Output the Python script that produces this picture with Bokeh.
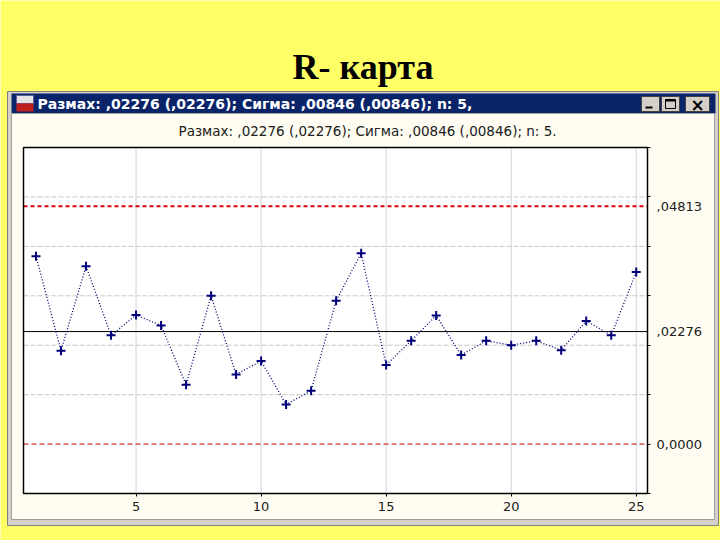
from bokeh.plotting import figure
from bokeh.models import (FixedTicker, Label, BoxAnnotation, Range1d,
                          LinearAxis, ColumnDataSource)
from bokeh.embed import file_html
from bokeh.resources import INLINE

# ---------------- data ----------------
samples = list(range(1, 26))
ranges = [0.0380, 0.0189, 0.0360, 0.0220, 0.0261, 0.0240, 0.0120, 0.0300,
          0.0141, 0.0168, 0.0080, 0.0108, 0.0290, 0.0386, 0.0160, 0.0209,
          0.0260, 0.0180, 0.0209, 0.0200, 0.0209, 0.0190, 0.0249, 0.0220,
          0.0348]
ucl = 0.04813
cl = 0.02276
lcl = 0.0
x_ticks = [5, 10, 15, 20, 25]
y_grid = [0.01, 0.02, 0.03, 0.04, 0.05]
y_minor = [-0.01, 0.0, 0.01, 0.02, 0.03, 0.04, 0.05, 0.06]
limit_labels = {0.04813: ",04813", 0.02276: ",02276", 0.0: "0,0000"}
slide_title = "R- карта"
window_title = "Размах: ,02276 (,02276); Сигма: ,00846 (,00846); n: 5,"
chart_subtitle = "Размах: ,02276 (,02276); Сигма: ,00846 (,00846); n: 5."

# visible chart domain
x_lo, x_hi = 0.5, 25.45
y_lo, y_hi = -0.01, 0.06

# ---------------- layout ----------------
W, H = 720, 540
PL, PR, PT, PB = 23, 647, 147, 493      # plot-area box on the canvas
kx = (PR - PL) / (x_hi - x_lo)
ky = (PB - PT) / (y_hi - y_lo)
xs, xe = x_lo - PL / kx, x_hi + (W - PR) / kx
ys, ye = y_lo - (H - PB) / ky, y_hi + PT / ky

YELLOW = "#FFFF66"
CREAM = "#FFFDF2"
NAVY = "#0A246A"
BTN = "#D4D0C8"
INK = "#202020"

p = figure(width=W, height=H, output_backend="svg", toolbar_location=None,
           x_range=Range1d(xs, xe), y_range=Range1d(ys, ye),
           x_axis_location=None, y_axis_location=None,
           min_border=0, border_fill_color=YELLOW,
           background_fill_color=YELLOW, outline_line_color=None)
p.xgrid.visible = False
p.ygrid.visible = False


def box(x0, y0, x1, y1, fill=None, line=None, lw=1, level="image"):
    b = BoxAnnotation(left=x0, right=x1, top=H - y0, bottom=H - y1,
                      left_units="screen", right_units="screen",
                      top_units="screen", bottom_units="screen",
                      fill_color=fill if fill else "white",
                      fill_alpha=1.0 if fill else 0.0,
                      line_color=line, line_alpha=1.0, line_width=lw,
                      level=level)
    p.add_layout(b)
    return b


def label(x, y, text, size, color="black", font="DejaVu Sans", style="normal",
          align="left", baseline="middle"):
    lab = Label(x=x, y=H - y, x_units="screen", y_units="screen",
                text=text, text_font=font, text_font_size=size,
                text_font_style=style, text_color=color,
                text_align=align, text_baseline=baseline)
    p.add_layout(lab)
    return lab


# window chrome
box(7, 91, 718, 525, fill=BTN, line="#808080")
box(11, 93, 715, 113, fill=NAVY)
box(11, 113, 714, 519, fill=CREAM, line="#A0A0A0")

# icon
box(16, 95, 33, 103, fill="#E4E4E4", line="#6060A0")
box(16, 103, 33, 111, fill="#C02020")
# buttons
box(641, 96, 659, 111, fill=BTN, line="#404040")
box(645, 106, 652, 108, fill="black")
box(661, 96, 679, 111, fill=BTN, line="#404040")
box(665, 99, 675, 108, fill=None, line="black")
box(665, 99, 675, 101, fill="black")
box(685, 96, 709, 111, fill=BTN, line="#404040")
label(697, 104, "×", "17px", style="bold", align="center")

# texts
label(362.5, 66.7, slide_title, "36px", font="Liberation Serif", style="bold",
      align="center", baseline="alphabetic")
label(37, 103.5, window_title, "14px", color="white", style="bold")
label(367, 130, chart_subtitle, "13.5px", color=INK, align="center")

# ---------------- chart ----------------
# white plot area, in data units
p.add_layout(BoxAnnotation(left=x_lo, right=x_hi, bottom=y_lo, top=y_hi,
                           fill_color="white", fill_alpha=1.0,
                           line_color=None, level="image"))

# grid lines, limited to the plot area
p.segment(x0=x_ticks, y0=[y_lo] * len(x_ticks), x1=x_ticks, y1=[y_hi] * len(x_ticks),
          line_color="#A8A8A8", line_width=1, line_dash="1 1")
p.segment(x0=[x_lo] * len(y_grid), y0=y_grid, x1=[x_hi] * len(y_grid), y1=y_grid,
          line_color="#C8C8C8", line_width=1, line_dash="5 2")

xaxis = LinearAxis(fixed_location=y_lo, bounds=(x_lo, x_hi),
                   ticker=FixedTicker(ticks=x_ticks, minor_ticks=[]),
                   axis_line_color=None, major_tick_out=3, major_tick_in=0,
                   major_label_standoff=5,
                   major_label_text_font="DejaVu Sans",
                   major_label_text_font_size="13px",
                   major_label_text_color=INK)
p.add_layout(xaxis, "below")

yaxis = LinearAxis(fixed_location=x_hi, bounds=(y_lo, y_hi),
                   ticker=FixedTicker(ticks=[lcl, cl, ucl], minor_ticks=y_minor),
                   major_label_overrides=limit_labels,
                   axis_line_color=None, major_tick_out=0, major_tick_in=0,
                   minor_tick_out=3, minor_tick_in=0,
                   minor_tick_line_color="black",
                   major_label_standoff=6,
                   major_label_text_font="DejaVu Sans",
                   major_label_text_font_size="13px",
                   major_label_text_color=INK)
p.add_layout(yaxis, "right")

# control limits
p.line([x_lo, x_hi], [ucl, ucl], line_color="#E00000", line_width=2,
       line_dash="4 3")
p.line([x_lo, x_hi], [cl, cl], line_color="black", line_width=1)
p.line([x_lo, x_hi], [lcl, lcl], line_color="#C00000", line_width=1,
       line_dash="5 3")

src = ColumnDataSource(dict(x=samples, y=ranges))
p.line("x", "y", source=src, line_color="#000070", line_width=1.3, line_dash="1 2")
p.scatter("x", "y", source=src, marker="cross", size=9, line_color="#00007A",
          line_width=2)

# plot-area outline on top
p.add_layout(BoxAnnotation(left=x_lo, right=x_hi, bottom=y_lo, top=y_hi,
                           fill_alpha=0.0, line_color="black", line_alpha=1.0,
                           line_width=1.5, level="overlay"))

open("out.html", "w").write(file_html(p, INLINE))
